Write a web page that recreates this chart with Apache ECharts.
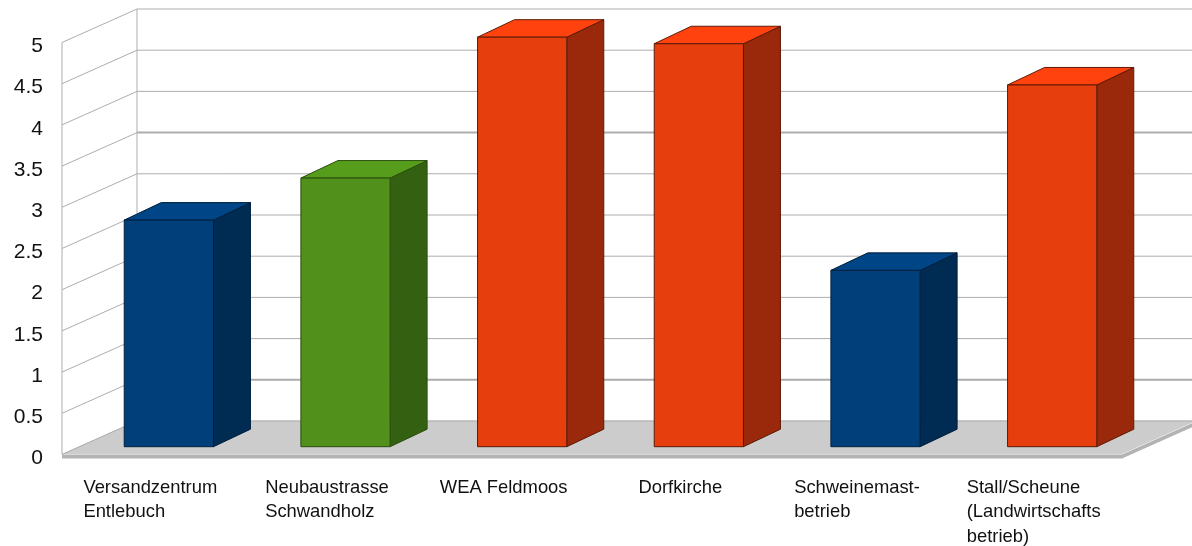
<!DOCTYPE html>
<html>
<head>
<meta charset="utf-8">
<title>Balkendiagramm</title>
<script src="https://cdn.jsdelivr.net/npm/echarts@6/dist/echarts.min.js"></script>
<style>
html,body{margin:0;padding:0;background:#fff}
#chart{width:1192px;height:546px}
</style>
</head>
<body>
<div id="chart"></div>
<script>
// Chart content
const categories = ['Versandzentrum\nEntlebuch', 'Neubaustrasse\nSchwandholz', 'WEA Feldmoos', 'Dorfkirche', 'Schweinemast-\nbetrieb', 'Stall/Scheune\n(Landwirtschafts\nbetrieb)'];
const values = [2.75, 3.26, 4.97, 4.89, 2.14, 4.39];
const barGroups = ['blue', 'green', 'red', 'red', 'blue', 'red'];
const yTicks = [0, 0.5, 1, 1.5, 2, 2.5, 3, 3.5, 4, 4.5, 5];
const heavyTicks = [0.5, 3.5];

// Shading of the three visible faces per colour group
const palette = {
  blue:  { front: '#003f7a', side: '#002b52', top: '#004586', edge: '#001f3d' },
  green: { front: '#50901b', side: '#346012', top: '#579d1c', edge: '#2a4d0e' },
  red:   { front: '#e63e0c', side: '#99290a', top: '#ff420e', edge: '#5c1a06' }
};

// Oblique projection: offset from the front plane to the back wall, and for one bar depth
const WALL_DX = 75, WALL_DY = -33.5;
const BAR_PLANE_DX = 18.5, BAR_PLANE_DY = -7.8;
const BAR_DX = 37, BAR_DY = -17.5;
const BAR_WIDTH_RATIO = 0.505;
const FLOOR_THICKNESS = 4;
const GRID_COLOR = '#adadad';

const chart = echarts.init(document.getElementById('chart'));

function poly(points, fill, stroke, lineWidth) {
  return {
    type: 'polygon',
    shape: { points },
    style: { fill, stroke: stroke || null, lineWidth: lineWidth || 0 },
    silent: true
  };
}
function line(points, width) {
  return {
    type: 'polyline',
    shape: { points },
    style: { fill: null, stroke: GRID_COLOR, lineWidth: width || 1 },
    silent: true
  };
}

function renderWallLine(params, api) {
  const v = api.value(1);
  const cs = params.coordSys;
  const y = api.coord([0, v])[1];
  const x0 = cs.x, xb = cs.x + WALL_DX;
  const heavy = heavyTicks.indexOf(v) >= 0;
  return {
    type: 'group',
    silent: true,
    children: [
      line([[x0, y], [xb, y + WALL_DY]]),
      line([[xb, y + WALL_DY], [cs.x + cs.width + WALL_DX, y + WALL_DY]], heavy ? 2 : 1)
    ]
  };
}

function renderFloor(params, api) {
  const cs = params.coordSys;
  const y0 = api.coord([0, 0])[1];
  const xl = cs.x, xr = cs.x + cs.width;
  return {
    type: 'group',
    silent: true,
    children: [
      poly([[xl, y0], [xr, y0], [xr + WALL_DX, y0 + WALL_DY], [xr + WALL_DX, y0 + WALL_DY + FLOOR_THICKNESS], [xr, y0 + FLOOR_THICKNESS], [xl, y0 + FLOOR_THICKNESS]], '#b3b3b3'),
      poly([[xl, y0 - 0.5], [xr, y0 - 0.5], [xr + WALL_DX, y0 + WALL_DY - 0.5], [xl + WALL_DX, y0 + WALL_DY - 0.5]], '#cccccc'),
      line([[xl, cs.y], [xl, y0]]),
      line([[xl + WALL_DX, cs.y + WALL_DY], [xl + WALL_DX, y0 + WALL_DY]])
    ]
  };
}

function renderBar(params, api) {
  const i = api.value(0);
  const v = api.value(1);
  const c = palette[barGroups[params.dataIndex]];
  const band = api.size([1, 0])[0];
  const w = band * BAR_WIDTH_RATIO;
  const base = api.coord([i, 0]);
  const top = api.coord([i, v]);
  const xl = base[0] + BAR_PLANE_DX - w / 2;
  const xr = xl + w;
  const yb = base[1] + BAR_PLANE_DY;
  const yt = top[1] + BAR_PLANE_DY;
  return {
    type: 'group',
    silent: true,
    children: [
      poly([[xr, yt], [xr + BAR_DX, yt + BAR_DY], [xr + BAR_DX, yb + BAR_DY], [xr, yb]], c.side, c.edge, 1),
      poly([[xl, yt], [xl + BAR_DX, yt + BAR_DY], [xr + BAR_DX, yt + BAR_DY], [xr, yt]], c.top, c.edge, 1),
      poly([[xl, yt], [xr, yt], [xr, yb], [xl, yb]], c.front, c.edge, 1)
    ]
  };
}

// Multi-line labels are left-aligned inside a block centred on the category
function categoryLabel(text) {
  return text.split('\n').map(s => '{l|' + s + '}').join('\n');
}

chart.setOption({
  animation: false,
  backgroundColor: '#ffffff',
  textStyle: { fontFamily: '"Liberation Sans", Arial, sans-serif' },
  grid: { left: 62, top: 42.5, width: 1060, height: 412, containLabel: false },
  xAxis: {
    type: 'category',
    data: categories,
    axisLine: { show: false },
    axisTick: { show: false },
    splitLine: { show: false },
    axisLabel: {
      interval: 0,
      margin: 21,
      hideOverlap: false,
      align: 'center',
      verticalAlign: 'top',
      formatter: categoryLabel,
      rich: { l: { align: 'left', fontSize: 18.4, lineHeight: 24.5, color: '#111111', fontFamily: '"Liberation Sans", Arial, sans-serif' } }
    }
  },
  yAxis: {
    type: 'value',
    min: 0,
    max: 5,
    interval: 0.5,
    axisLine: { show: false },
    axisTick: { show: false },
    splitLine: { show: false },
    axisLabel: { margin: 19, fontSize: 21, verticalAlign: 'top', lineHeight: 8, color: '#111111', fontFamily: '"Liberation Sans", Arial, sans-serif' }
  },
  series: [
    { type: 'custom', clip: false, silent: true, z: 1, renderItem: renderFloor, data: [[0, 0]], encode: { x: 0, y: 1 } },
    { type: 'custom', clip: false, silent: true, z: 2, renderItem: renderWallLine, data: yTicks.map(v => [0, v]), encode: { x: 0, y: 1 } },
    { type: 'custom', clip: false, silent: true, z: 3, renderItem: renderBar, data: values.map((v, i) => [i, v]), encode: { x: 0, y: 1 } }
  ]
});
</script>
</body>
</html>
